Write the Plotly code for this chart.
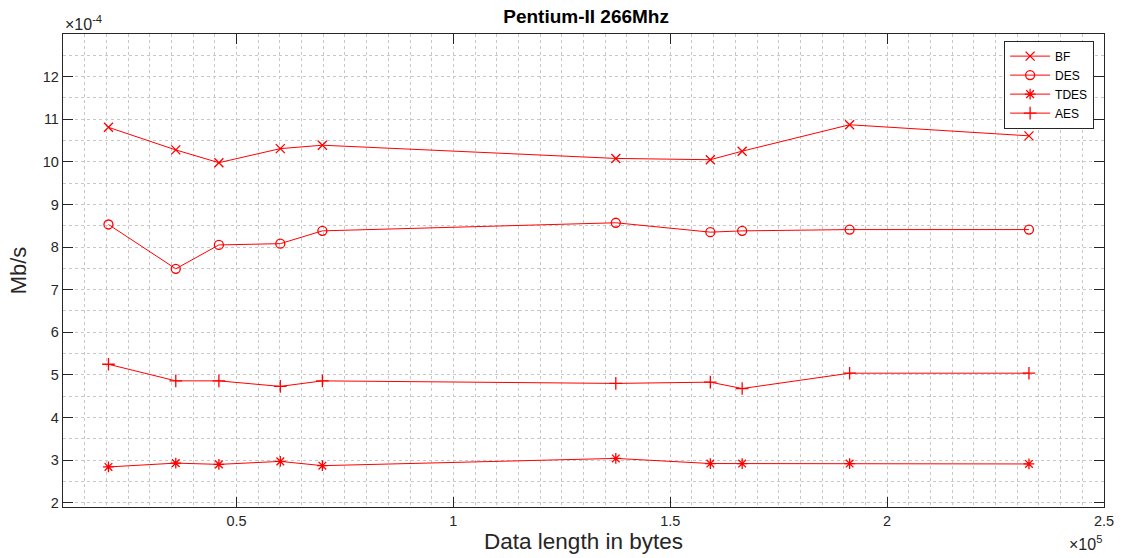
import plotly.graph_objects as go

# Data length (bytes, in units of 1e5) and throughput (Mb/s, in units of 1e-4)
x_len = [0.2048, 0.360, 0.4594, 0.601, 0.698, 1.3745, 1.5924, 1.6658, 1.9135, 2.327]
bf = [10.81, 10.28, 9.98, 10.31, 10.39, 10.08, 10.05, 10.25, 10.87, 10.61]
des = [8.53, 7.49, 8.05, 8.08, 8.38, 8.57, 8.35, 8.38, 8.41, 8.41]
tdes = [2.84, 2.93, 2.90, 2.97, 2.87, 3.04, 2.92, 2.92, 2.92, 2.91]
aes = [5.25, 4.86, 4.86, 4.73, 4.86, 4.80, 4.83, 4.68, 5.04, 5.04]

series = [("BF", bf, "x-thin-open"), ("DES", des, "circle-open"),
          ("TDES", tdes, "asterisk-open"), ("AES", aes, "cross-thin-open")]

x_ticks = [0.5, 1, 1.5, 2, 2.5]
x_ticktext = ["0.5", "1", "1.5", "2", "2.5"]
y_ticks = [2, 3, 4, 5, 6, 7, 8, 9, 10, 11, 12]

FONT = "Liberation Sans, Arial, Helvetica, sans-serif"
AX = "#262626"
GRID = "#c8c8c8"

fig = go.Figure()
for name, vals, sym in series:
    fig.add_trace(go.Scatter(
        x=x_len, y=vals, name=name, mode="lines+markers",
        line=dict(color="#ff0000", width=1),
        marker=dict(symbol=sym, size=9, color="#ff0000",
                    line=dict(color="#ff0000", width=1.3)),
    ))

axis_common = dict(
    showline=True, linecolor=AX, linewidth=1.3, mirror="ticks",
    ticks="inside", ticklen=10, tickcolor=AX, tickwidth=1,
    showgrid=True, gridcolor=GRID, griddash="dot", gridwidth=1,
    zeroline=False, tickfont=dict(family=FONT, size=14.5, color=AX),
)

fig.update_layout(
    width=1126, height=558,
    margin=dict(l=63, r=16, t=34, b=49),
    paper_bgcolor="white", plot_bgcolor="white",
    font=dict(family=FONT, color=AX),
    title=dict(text="<b>Pentium-II 266Mhz</b>", x=0.5205, xanchor="center",
               y=0.97, yanchor="middle", font=dict(family=FONT, size=19, color="black")),
    xaxis=dict(range=[0.1, 2.5], tickvals=x_ticks, ticktext=x_ticktext,
               title=dict(text="Data length in bytes", font=dict(family=FONT, size=22.5, color=AX),
                          standoff=2),
               minor=dict(dtick=0.05, tick0=0, showgrid=True, gridcolor=GRID,
                          griddash="dot", gridwidth=1, ticks=""),
               **axis_common),
    yaxis=dict(range=[1.9, 13.0], tickvals=y_ticks,
               title=dict(text="Mb/s", font=dict(family=FONT, size=22, color=AX),
                          standoff=10),
               minor=dict(dtick=0.5, tick0=0, showgrid=True, gridcolor=GRID,
                          griddash="dot", gridwidth=1, ticks=""),
               **axis_common),
    legend=dict(x=0.9905, xanchor="right", y=0.986, yanchor="top",
                bordercolor=AX, borderwidth=1, bgcolor="white",
                font=dict(family=FONT, size=12, color="black"),
                tracegroupgap=0, itemwidth=40),
    showlegend=True,
)

fig.add_annotation(text="×10<sup>-4</sup>", xref="paper", yref="paper", x=0, y=1,
                   xanchor="left", yanchor="bottom", showarrow=False, yshift=-1,
                   font=dict(family=FONT, size=16, color=AX))
fig.add_annotation(text="×10<sup>5</sup>", xref="paper", yref="paper", x=1.0, y=-0.077,
                   xanchor="right", yanchor="middle", showarrow=False,
                   font=dict(family=FONT, size=16, color=AX))

fig.write_html("out.html")
